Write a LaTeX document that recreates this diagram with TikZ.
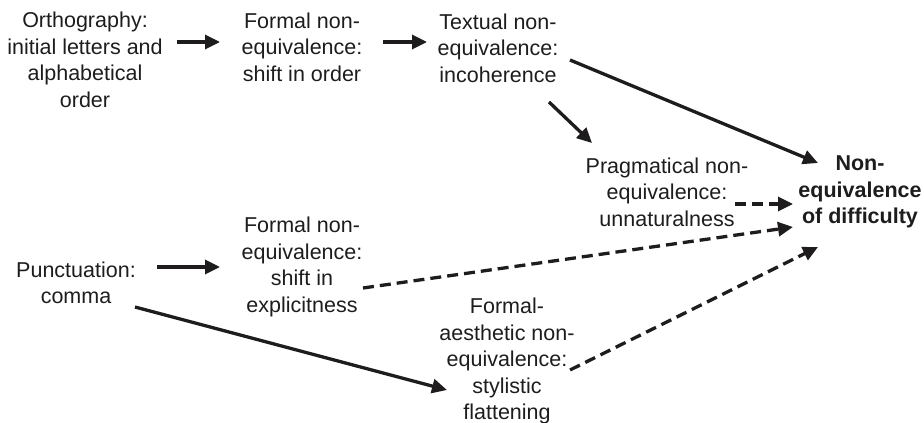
\documentclass[tikz,border=0pt]{standalone}
\usepackage{fontspec}
\setmainfont{Liberation Sans}
\usetikzlibrary{arrows.meta}
\definecolor{ink}{HTML}{1E1C1D}
\begin{document}
\begin{tikzpicture}[x=1pt,y=-1pt,
  lbl/.style={align=center,inner sep=0pt,text=ink,
    font=\fontsize{21.5}{26.5}\selectfont},
  arr/.style={draw=ink,line width=3.3pt,
    -{Triangle[length=15pt,width=14pt]}},
  darr/.style={arr,dash pattern=on 11pt off 6pt}]
\useasboundingbox (0,0) rectangle (924,423);

% concepts
\node[lbl] (ortho) at (85,60) {Orthography:\\initial letters and\\alphabetical\\order};
\node[lbl] (f1) at (302,47) {Formal non-\\equivalence:\\shift in order};
\node[lbl] (tex) at (498,48) {Textual non-\\equivalence:\\incoherence};
\node[lbl] (prag) at (667,192) {Pragmatical non-\\equivalence:\\unnaturalness};
\node[lbl,font=\fontsize{21.5}{26.5}\selectfont\bfseries] (neq) at (860,192) {Non-\\equivalence\\of difficulty};
\node[lbl] (f2) at (302,267) {Formal non-\\equivalence:\\shift in\\explicitness};
\node[lbl] (punct) at (76,283) {Punctuation:\\comma};
\node[lbl] (fa) at (507,361) {Formal-\\aesthetic non-\\equivalence:\\stylistic\\flattening};

% solid links
\draw[arr] ([shift={(92,-18)}]ortho.center) -- ([shift={(-82,-5)}]f1.center);
\draw[arr] ([shift={(81,-5)}]f1.center) -- ([shift={(-71,-6)}]tex.center);
\draw[arr] ([shift={(72,12)}]tex.center) -- ([shift={(-42,-29)}]neq.center);
\draw[arr] ([shift={(51,54)}]tex.center) -- ([shift={(-75,-49)}]prag.center);
\draw[arr] ([shift={(81,-16)}]punct.center) -- ([shift={(-82,0)}]f2.center);
\draw[arr] ([shift={(59,24)}]punct.center) -- ([shift={(-60,29)}]fa.center);

% dashed links
\draw[darr] ([shift={(68,12)}]prag.center) -- ([shift={(-67,12)}]neq.center);
\draw[darr] ([shift={(61,21)}]f2.center) -- ([shift={(-67,35)}]neq.center);
\draw[darr] ([shift={(63,9)}]fa.center) -- ([shift={(-42,55)}]neq.center);
\end{tikzpicture}
\end{document}
